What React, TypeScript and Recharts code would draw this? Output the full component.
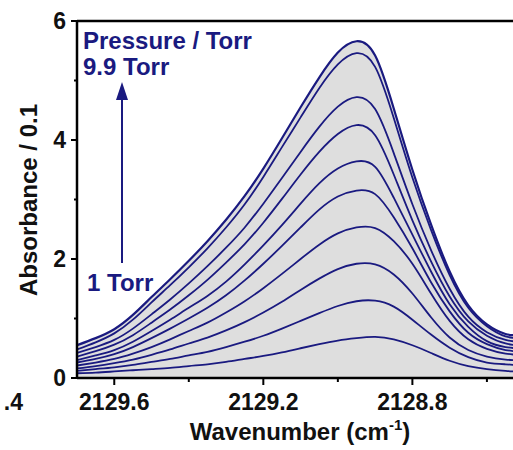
import { ComposedChart, Area, Line, XAxis, YAxis, ReferenceLine } from "recharts";

// wavenumber grid (cm-1), left to right on the reversed axis
const WAVENUMBERS = [
  2129.7, 2129.65, 2129.6, 2129.55, 2129.5, 2129.45, 2129.4, 2129.35, 2129.3, 2129.25,
  2129.2, 2129.15, 2129.1, 2129.05, 2129.0, 2128.95, 2128.9, 2128.85, 2128.8, 2128.75,
  2128.7, 2128.65, 2128.6, 2128.55, 2128.5,
];

// absorbance / 0.1, lowest pressure (1 Torr) first, highest (9.9 Torr) last
const ABS_1 = [0.08, 0.09, 0.11, 0.13, 0.15, 0.17, 0.2, 0.23, 0.27, 0.32, 0.37, 0.43, 0.5, 0.57, 0.63, 0.67, 0.69, 0.65, 0.55, 0.42, 0.29, 0.2, 0.15, 0.12, 0.1];
const ABS_2 = [0.12, 0.15, 0.18, 0.22, 0.27, 0.32, 0.38, 0.44, 0.52, 0.61, 0.71, 0.83, 0.96, 1.09, 1.21, 1.29, 1.3, 1.2, 0.98, 0.73, 0.51, 0.35, 0.26, 0.23, 0.21];
const ABS_3 = [0.16, 0.2, 0.25, 0.31, 0.39, 0.48, 0.58, 0.68, 0.8, 0.94, 1.1, 1.28, 1.48, 1.67, 1.83, 1.92, 1.91, 1.74, 1.42, 1.02, 0.68, 0.47, 0.36, 0.31, 0.29];
const ABS_4 = [0.21, 0.26, 0.32, 0.41, 0.52, 0.65, 0.79, 0.93, 1.1, 1.29, 1.51, 1.75, 2.0, 2.24, 2.43, 2.53, 2.52, 2.3, 1.92, 1.42, 0.96, 0.65, 0.49, 0.41, 0.38];
const ABS_5 = [0.26, 0.32, 0.4, 0.52, 0.67, 0.83, 1.0, 1.18, 1.39, 1.64, 1.92, 2.22, 2.53, 2.83, 3.05, 3.15, 3.09, 2.7, 2.18, 1.61, 1.12, 0.76, 0.57, 0.47, 0.44];
const ABS_6 = [0.3, 0.38, 0.47, 0.61, 0.79, 0.98, 1.18, 1.38, 1.62, 1.91, 2.23, 2.57, 2.93, 3.27, 3.52, 3.64, 3.55, 3.03, 2.41, 1.79, 1.24, 0.86, 0.62, 0.52, 0.49];
const ABS_7 = [0.36, 0.45, 0.56, 0.72, 0.93, 1.15, 1.39, 1.65, 1.94, 2.25, 2.61, 3.01, 3.42, 3.8, 4.1, 4.25, 4.08, 3.42, 2.65, 1.96, 1.37, 0.95, 0.71, 0.58, 0.54];
const ABS_8 = [0.42, 0.52, 0.64, 0.83, 1.07, 1.32, 1.59, 1.88, 2.19, 2.53, 2.93, 3.36, 3.8, 4.22, 4.56, 4.72, 4.52, 3.78, 2.92, 2.15, 1.5, 1.03, 0.77, 0.64, 0.6];
const ABS_9 = [0.48, 0.6, 0.75, 0.98, 1.27, 1.56, 1.86, 2.18, 2.53, 2.92, 3.38, 3.88, 4.38, 4.87, 5.27, 5.46, 5.23, 4.37, 3.37, 2.49, 1.73, 1.18, 0.87, 0.7, 0.66];
const ABS_10 = [0.55, 0.67, 0.82, 1.06, 1.36, 1.66, 1.97, 2.3, 2.66, 3.06, 3.52, 4.03, 4.55, 5.05, 5.47, 5.66, 5.42, 4.53, 3.5, 2.58, 1.79, 1.22, 0.9, 0.74, 0.71];

const SERIES = [ABS_1, ABS_2, ABS_3, ABS_4, ABS_5, ABS_6, ABS_7, ABS_8, ABS_9, ABS_10];

const X_TICKS = [2129.6, 2129.4, 2129.2, 2129.0, 2128.8, 2128.6];
const X_LABELED = [2129.6, 2129.2, 2128.8];
const Y_TICKS = [0, 1, 2, 3, 4, 5, 6];
const Y_LABELED = [0, 2, 4, 6];

const NAVY = "#1a1a80";
const FONT = "'Liberation Sans', Arial, sans-serif";

const data = WAVENUMBERS.map((w, i) => {
  const row: Record<string, number> = { w };
  SERIES.forEach((s, k) => {
    row[`p${k}`] = s[i];
  });
  return row;
});

const isIn = (list: number[], v: number) => list.some((t) => Math.abs(t - v) < 1e-6);

function XTick(props: any) {
  const { x, y, payload } = props;
  const major = isIn(X_LABELED, payload.value);
  return (
    <g>
      <line x1={x} x2={x} y1={y} y2={y + (major ? 7 : 4)} stroke="#000" strokeWidth={2} />
      {major && (
        <text x={x} y={y + 32} textAnchor="middle" fontSize={23} fontWeight="bold" fontFamily={FONT} fill="#111">
          {payload.value.toFixed(1)}
        </text>
      )}
    </g>
  );
}

function YTick(props: any) {
  const { x, y, payload } = props;
  const major = isIn(Y_LABELED, payload.value);
  return (
    <g>
      <line x1={x} x2={x - (major ? 6 : 3)} y1={y} y2={y} stroke="#000" strokeWidth={2} />
      {major && (
        <text x={x - 11} y={y + 8} textAnchor="end" fontSize={23} fontWeight="bold" fontFamily={FONT} fill="#111">
          {payload.value}
        </text>
      )}
    </g>
  );
}

export default function App() {
  return (
    <div style={{ position: "absolute", left: 0, top: 0, width: 513, height: 450, overflow: "hidden", background: "#fff" }}>
      <ComposedChart width={513} height={450} data={data} margin={{ top: 21, right: 0, bottom: 0, left: 0 }}>
        <XAxis
          dataKey="w"
          type="number"
          domain={[2128.53, 2129.7]}
          reversed
          allowDataOverflow
          ticks={X_TICKS}
          interval={0}
          tick={<XTick />}
          tickLine={false}
          tickSize={0}
          tickMargin={0}
          height={72}
          axisLine={{ stroke: "#000", strokeWidth: 2.5 }}
        />
        <YAxis
          type="number"
          domain={[0, 6]}
          ticks={Y_TICKS}
          interval={0}
          tick={<YTick />}
          tickLine={false}
          tickSize={0}
          tickMargin={0}
          width={77}
          axisLine={{ stroke: "#000", strokeWidth: 2.5 }}
        />
        <Area
          dataKey="p9"
          type="natural"
          fill="#dedede"
          fillOpacity={1}
          stroke="none"
          isAnimationActive={false}
        />
        {SERIES.map((_, k) => (
          <Line
            key={k}
            dataKey={`p${k}`}
            type="natural"
            stroke={NAVY}
            strokeWidth={k === SERIES.length - 1 ? 2.2 : 1.8}
            dot={false}
            activeDot={false}
            isAnimationActive={false}
          />
        ))}
        <ReferenceLine y={6} stroke="#000" strokeWidth={2.5} />
      </ComposedChart>
      <svg
        width={513}
        height={450}
        style={{ position: "absolute", left: 0, top: 0, pointerEvents: "none" }}
        fontFamily={FONT}
        fontWeight="bold"
      >
        <text x={37} y={200} transform="rotate(-90 37 200)" textAnchor="middle" fontSize={24} fill="#111">
          Absorbance / 0.1
        </text>
        <text x={300} y={440} textAnchor="middle" fontSize={24} fill="#111">
          Wavenumber (cm
          <tspan fontSize={15} dy={-10}>-1</tspan>
          <tspan dy={10}>)</tspan>
        </text>
        <text x={23} y={410} textAnchor="end" fontSize={23} fill="#111">
          .4
        </text>
        <text x={83} y={49} fontSize={24} fill={NAVY}>
          Pressure / Torr
        </text>
        <text x={83} y={75} fontSize={24} fill={NAVY}>
          9.9 Torr
        </text>
        <line x1={122} y1={263} x2={122} y2={96} stroke={NAVY} strokeWidth={2} />
        <polygon points="122,82 116,100 128,100" fill={NAVY} />
        <text x={87} y={291} fontSize={24} fill={NAVY}>
          1 Torr
        </text>
      </svg>
    </div>
  );
}
